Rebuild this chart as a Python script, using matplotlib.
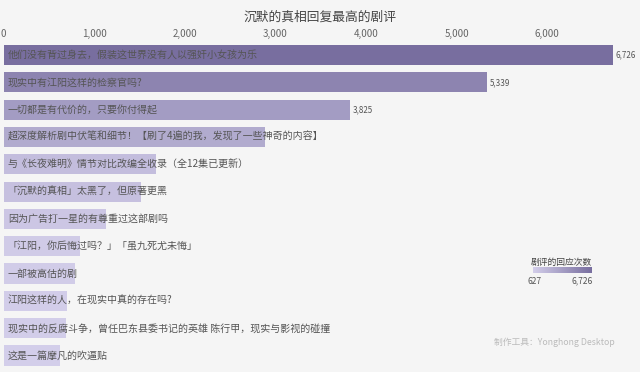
import matplotlib.pyplot as plt
import numpy as np
from matplotlib.colors import LinearSegmentedColormap, Normalize
from matplotlib.ticker import FuncFormatter

plt.rcParams['font.family'] = ['Noto Sans CJK SC', 'DejaVu Sans']

titles = [
    '他们没有背过身去，假装这世界没有人以强奸小女孩为乐',
    '现实中有江阳这样的检察官吗?',
    '一切都是有代价的，只要你付得起',
    '超深度解析剧中伏笔和细节！【刷了4遍的我，发现了一些神奇的内容】',
    '与《长夜难明》情节对比改编全收录（全12集已更新）',
    '「沉默的真相」太黑了，但原著更黑',
    '因为广告打一星的有尊重过这部剧吗',
    '「江阳，你后悔过吗？」「虽九死尤未悔」',
    '一部被高估的剧',
    '江阳这样的人，在现实中真的存在吗?',
    '现实中的反腐斗争，曾任巴东县委书记的英雄 陈行甲，现实与影视的碰撞',
    '这是一篇摩凡的吹逼贴',
]
replies = [6726, 5339, 3825, 2883, 1681, 1516, 1130, 843, 788, 700, 695, 627]
labelled = [0, 1, 2]  # only the top three carry a value label
ticks = [0, 1000, 2000, 3000, 4000, 5000, 6000]

W, H = 640, 372
bg = '#f5f5f5'
cmap = LinearSegmentedColormap.from_list('purp', ['#d3ceea', '#786e9f'])
norm = Normalize(min(replies), max(replies))

fig = plt.figure(figsize=(W / 100, H / 100), dpi=100, facecolor=bg)
ax = fig.add_axes([3.5 / W, 2.8 / H, 634.5 / W, 327.8 / H], facecolor=bg)

y = np.arange(len(titles))
ax.barh(y, replies, height=0.74, color=cmap(norm(np.array(replies))))
ax.set_xlim(0, 7000)
ax.set_ylim(len(titles) - 0.5, -0.5)

for i, (t, v) in enumerate(zip(titles, replies)):
    ax.annotate(t, (0, i), xytext=(3.2, 0), textcoords='offset points',
                ha='left', va='center', fontsize=7.2, color='#555555')
    if i in labelled:
        ax.annotate(f'{v:,}', (v, i), xytext=(1.5, 0), textcoords='offset points',
                    ha='left', va='center', fontsize=5.8, color='#555555')

ax.xaxis.tick_top()
ax.set_xticks(ticks)
ax.xaxis.set_major_formatter(FuncFormatter(lambda v, p: f'{int(v):,}'))
ax.tick_params(axis='x', length=0, pad=1.5, labelsize=7, labelcolor='#666666')
ax.set_yticks([])
for s in ax.spines.values():
    s.set_visible(False)

fig.text(0.5, 1 - 17 / H, '沉默的真相回复最高的剧评', ha='center', va='center',
         fontsize=9.2, color='#444444')

# colour legend
cax = fig.add_axes([533 / W, (H - 273) / H, 59 / W, 6 / H])
cax.imshow(np.linspace(0, 1, 256)[None, :], aspect='auto', cmap=cmap)
cax.set_axis_off()
fig.text(561 / W, 1 - 262 / H, '剧评的回应次数', ha='center', va='center',
         fontsize=6.3, color='#444444')
fig.text(528 / W, 1 - 281 / H, f'{min(replies):,}', ha='left', va='center',
         fontsize=6, color='#555555')
fig.text(593 / W, 1 - 281 / H, f'{max(replies):,}', ha='right', va='center',
         fontsize=6, color='#555555')

fig.text(615 / W, 1 - 342 / H, '制作工具：Yonghong Desktop', ha='right', va='center',
         fontsize=6.3, color='#bbbbbb')

fig.savefig('out.png', dpi=100, facecolor=bg)
